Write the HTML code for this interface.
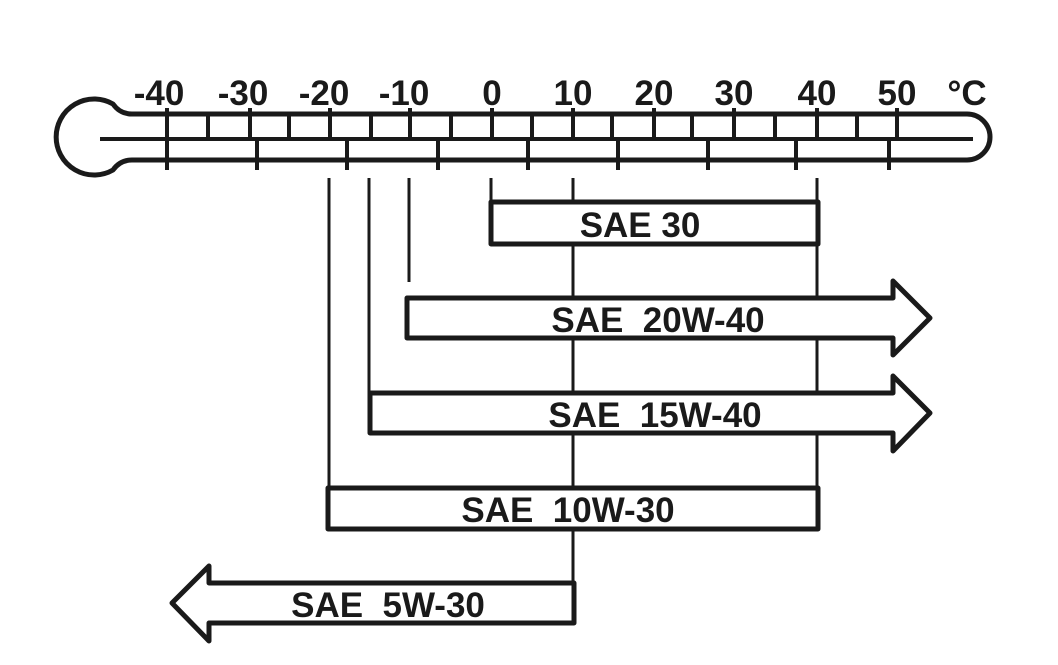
<!DOCTYPE html>
<html><head><style>html,body{margin:0;padding:0;background:#fff}svg{display:block}</style></head><body>
<svg width="1058" height="665" viewBox="0 0 1058 665" xmlns="http://www.w3.org/2000/svg">
<g fill="none" stroke="#1a1a1a" stroke-width="5" stroke-linejoin="round">
<path d="M132,114 L967,114 A23,23 0 0 1 967,160 L132,160 Q120,160 113,170 A38,38 0 1 1 113,104 Q120,114 132,114 Z"/>
</g>
<g stroke="#1a1a1a" stroke-width="4">
<line x1="100" y1="139" x2="973" y2="139"/>
<line x1="167" y1="108" x2="167" y2="170"/>
<line x1="250" y1="108" x2="250" y2="139"/><line x1="330" y1="108" x2="330" y2="139"/><line x1="410" y1="108" x2="410" y2="139"/><line x1="492" y1="108" x2="492" y2="139"/><line x1="573" y1="108" x2="573" y2="139"/><line x1="654" y1="108" x2="654" y2="139"/><line x1="734" y1="108" x2="734" y2="139"/><line x1="817" y1="108" x2="817" y2="139"/><line x1="897" y1="108" x2="897" y2="139"/>
<line x1="208" y1="114" x2="208" y2="139"/><line x1="289" y1="114" x2="289" y2="139"/><line x1="371" y1="114" x2="371" y2="139"/><line x1="451" y1="114" x2="451" y2="139"/><line x1="532" y1="114" x2="532" y2="139"/><line x1="612" y1="114" x2="612" y2="139"/><line x1="692" y1="114" x2="692" y2="139"/><line x1="775" y1="114" x2="775" y2="139"/><line x1="857" y1="114" x2="857" y2="139"/>
<line x1="257" y1="139" x2="257" y2="170"/><line x1="347" y1="139" x2="347" y2="170"/><line x1="438" y1="139" x2="438" y2="170"/><line x1="528" y1="139" x2="528" y2="170"/><line x1="618" y1="139" x2="618" y2="170"/><line x1="708" y1="139" x2="708" y2="170"/><line x1="796" y1="139" x2="796" y2="170"/><line x1="889" y1="139" x2="889" y2="170"/>
</g>
<g stroke="#1a1a1a" stroke-width="3">
<line x1="329" y1="178" x2="329" y2="488"/>
<line x1="369" y1="178" x2="369" y2="393"/>
<line x1="409" y1="178" x2="409" y2="282"/>
<line x1="491" y1="178" x2="491" y2="200"/>
<line x1="573" y1="178" x2="573" y2="582"/>
<line x1="817" y1="178" x2="817" y2="488"/>
</g>
<g fill="#fff" stroke="#1a1a1a" stroke-width="5" stroke-linejoin="round">
<rect x="491" y="202" width="327" height="42"/>
<path d="M407,298 L893,298 L893,281 L930,318 L893,355 L893,338 L407,338 Z"/>
<path d="M370,393 L893,393 L893,376 L930,413 L893,451 L893,433 L370,433 Z"/>
<rect x="328" y="488" width="490" height="41"/>
<path d="M574,583 L209,583 L209,566 L172,603 L209,641 L209,623 L574,623 Z"/>
</g>
<g font-family="Liberation Sans, sans-serif" font-weight="bold" font-size="35" fill="#1a1a1a" text-anchor="middle">
<text x="159" y="105">-40</text><text x="243" y="105">-30</text><text x="324" y="105">-20</text><text x="404" y="105">-10</text><text x="492" y="105">0</text><text x="573" y="105">10</text><text x="654" y="105">20</text><text x="734" y="105">30</text><text x="817" y="105">40</text><text x="897" y="105">50</text><text x="967" y="105">°C</text>
<text x="640" y="237">SAE 30</text>
<text x="658" y="332" xml:space="preserve">SAE  20W-40</text>
<text x="655" y="427" xml:space="preserve">SAE  15W-40</text>
<text x="568" y="522" xml:space="preserve">SAE  10W-30</text>
<text x="388" y="617" xml:space="preserve">SAE  5W-30</text>
</g>
</svg>
</body></html>
